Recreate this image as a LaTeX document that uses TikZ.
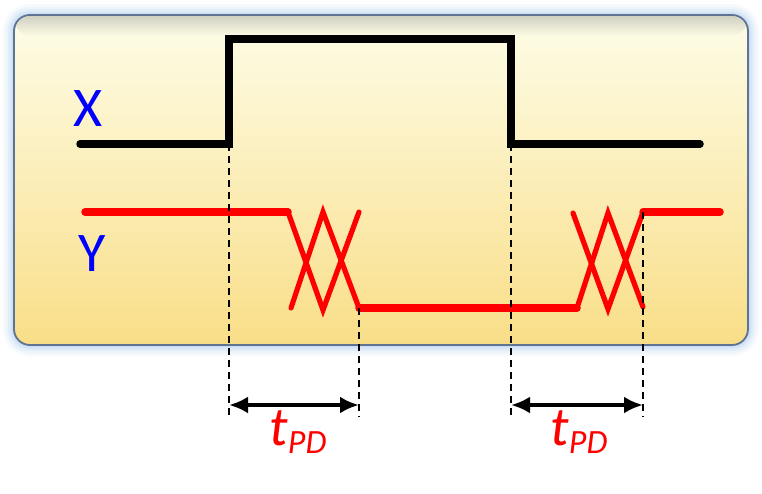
\documentclass[tikz,border=0pt]{standalone}
\usepackage{fontspec}
\setmainfont{Carlito}
\usetikzlibrary{arrows.meta}
\definecolor{boxtop}{HTML}{FDFDE8}
\definecolor{boxbot}{HTML}{F9DE88}
\definecolor{boxedge}{HTML}{5E7492}
\definecolor{glow}{HTML}{B0CFF0}
\definecolor{sigred}{HTML}{FF0000}
\definecolor{lblblue}{HTML}{0000FF}
\tikzset{
  xsig/.style={line width=7.5pt, black, line join=miter, line cap=round},
  ysig/.style={line width=7.5pt, sigred, line cap=round, line join=round},
  yedge/.style={line width=5.2pt, sigred, line cap=round},
  guide/.style={line width=1.4pt, black, dash pattern=on 7pt off 5pt},
  delay/.style={line width=4.8pt, black, {Latex[length=19pt,width=17pt]}-{Latex[length=19pt,width=17pt]}},
  siglabel/.style={text=lblblue, font=\fontsize{56}{56}\selectfont, inner sep=0pt},
  tlabel/.style={text=sigred, inner sep=0pt, font=\itshape}
}
\newcommand{\tpd}{{\fontsize{55}{55}\selectfont t}\raisebox{-8pt}{\fontsize{34}{34}\selectfont PD}}
\begin{document}
\begin{tikzpicture}[x=1pt,y=-1pt]
\useasboundingbox (0,0) rectangle (762,493);
% glow
\foreach \w/\o in {22/0.10,17/0.14,12/0.20,7/0.30,3/0.40}{
  \draw[glow, line width=\w pt, opacity=\o, rounded corners=16pt] (14,15) rectangle (748,345);
}
\shade[top color=boxtop, bottom color=boxbot, rounded corners=16pt] (14,15) rectangle (748,345);
\shade[top color=black!50, bottom color=boxtop, opacity=0.35, rounded corners=16pt] (15,16) rectangle (747,36);
\draw[boxedge, line width=1.8pt, rounded corners=16pt] (14,15) rectangle (748,345);

% coordinates
\coordinate (x0) at (80,144);
\coordinate (xr) at (229,144);
\coordinate (xrt) at (229,39);
\coordinate (xf) at (511,39);
\coordinate (xfb) at (511,144);
\coordinate (x1) at (700,144);

% X signal
\draw[xsig] (x0) -- (xr) -- (xrt) -- (xf) -- (xfb) -- (x1);

% Y signal
\coordinate (y0) at (85,212);
\coordinate (ya) at (288,212);
\coordinate (yb) at (359,308);
\coordinate (yc) at (577,308);
\coordinate (yd) at (643,212);
\coordinate (y1) at (720,212);
\draw[ysig] (y0) -- (ya);
\draw[ysig] (yb) -- (yc);
\draw[ysig] (yd) -- (y1);
\draw[yedge] (ya) -- (323,310) -- (359,212);
\draw[yedge] (291,308) -- (323,212) -- (yb);
\draw[yedge] (573,213) -- (608,309) -- (yd);
\draw[yedge] (yc) -- (608,213) -- (643,307);

% guides
\coordinate (g1) at (229,417);
\coordinate (g2) at (359,417);
\coordinate (g3) at (511,417);
\coordinate (g4) at (643,417);
\draw[guide] (xr) -- (g1);
\draw[guide] (yb) -- (g2);
\draw[guide] (xfb) -- (g3);
\draw[guide] (yd) -- (g4);

% delay arrows
\coordinate (a1) at (229,405);
\coordinate (a2) at (359,405);
\coordinate (a3) at (511,405);
\coordinate (a4) at (643,405);
\draw[delay] (a1) -- (a2);
\draw[delay] (a3) -- (a4);

% labels
\node[siglabel] (lx) at (88,109) {X};
\node[siglabel] (ly) at (92,254) {Y};
\node[tlabel, anchor=base] (t1) at (298,445) {\tpd};
\node[tlabel, anchor=base] (t2) at (579,445) {\tpd};
\end{tikzpicture}
\end{document}
